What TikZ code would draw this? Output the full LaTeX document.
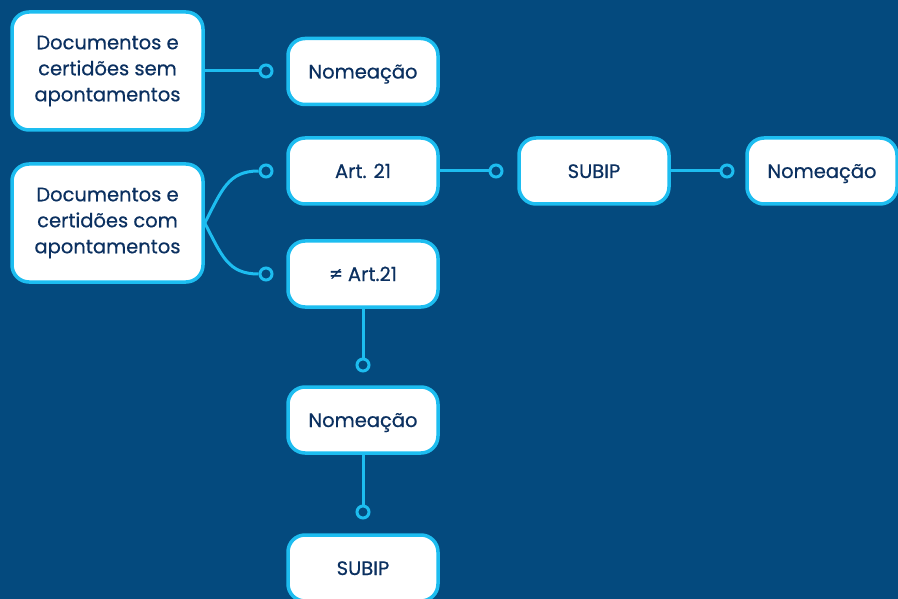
\documentclass[tikz,border=0pt]{standalone}
\usepackage{fontspec}
\setmainfont{Poppins}[FakeBold=0.5]
\definecolor{bg}{HTML}{044A7E}
\definecolor{cyanline}{HTML}{1DBDF0}
\definecolor{navy}{HTML}{0B3060}
\begin{document}
\begin{tikzpicture}[x=1pt,y=-1pt,
  box/.style={draw=cyanline, line width=3.5pt, fill=white, rounded corners=17pt,
    text=navy, font=\fontsize{19.5}{26}\selectfont, align=center, inner sep=0pt},
  small/.style={box, minimum width=150pt, minimum height=66pt, text height=18pt, text depth=4pt},
  big/.style={box, minimum width=191pt, minimum height=118pt},
  conn/.style={draw=cyanline, line width=3pt},
  dot/.style={circle, draw=cyanline, line width=3pt, fill=bg, minimum size=12pt, inner sep=0pt}]
\clip (0,0) rectangle (898,599);
\fill[bg] (0,0) rectangle (898,599);
\useasboundingbox (0,0) rectangle (898,599);
% nodes
\node[big] (A) at (107.5,71) {Documentos e\\certidões sem\\apontamentos};
\node[small] (N1) at (363,71.5) {Nomeação};
\node[big] (B) at (107.5,223) {Documentos e\\certidões com\\apontamentos};
\node[small] (Art) at (363,171) {Art. 21};
\node[small] (NArt) at (363,274) {≠ Art.21};
\node[small] (S1) at (594,171) {SUBIP};
\node[small] (N2) at (822,171) {Nomeação};
\node[small] (N3) at (363,420) {Nomeação};
\node[small] (S2) at (363,568) {SUBIP};
% dots
\node[dot] (d1) at (266,71) {};
\node[dot] (d2) at (266,171) {};
\node[dot] (d3) at (266,274) {};
\node[dot] (d4) at (496,171) {};
\node[dot] (d5) at (727,171) {};
\node[dot] (d6) at (363,365) {};
\node[dot] (d7) at (363,512) {};
% connectors
\draw[conn] (A.east) -- (d1.west);
\draw[conn] (B.east) .. controls (222,190) and (228,171) .. (d2.west);
\draw[conn] (B.east) .. controls (222,256) and (228,274) .. (d3.west);
\draw[conn] (Art.east) -- (d4.west);
\draw[conn] (S1.east) -- (d5.west);
\draw[conn] (NArt.south) -- (d6.north);
\draw[conn] (N3.south) -- (d7.north);
\end{tikzpicture}
\end{document}
